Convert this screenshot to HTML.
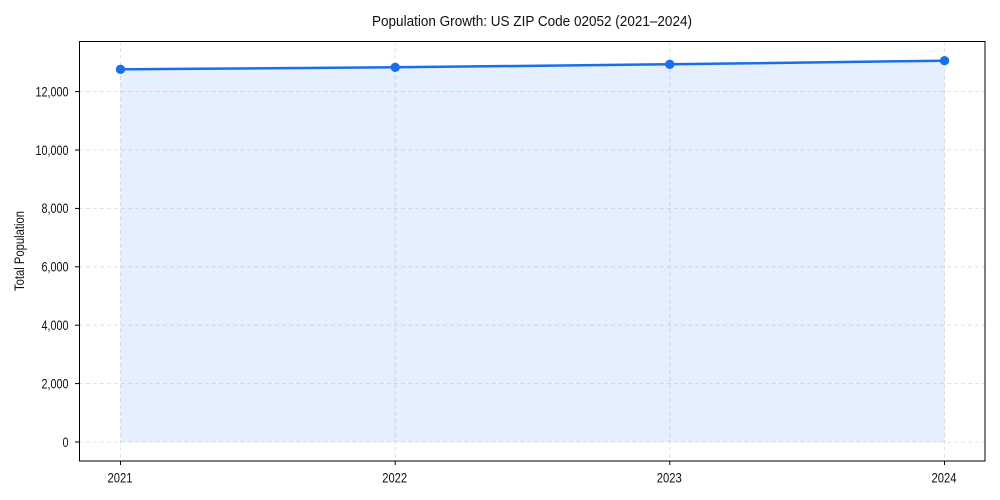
<!DOCTYPE html>
<html>
<head>
<meta charset="utf-8">
<style>
html,body{margin:0;padding:0;background:#fff;}
svg{display:block;}
text{font-family:"Liberation Sans",Arial,sans-serif;fill:#111;}
</style>
</head>
<body>
<svg width="1000" height="500" viewBox="0 0 1000 500" xmlns="http://www.w3.org/2000/svg">
  <rect x="0" y="0" width="1000" height="500" fill="#fff"/>
  <!-- title -->
  <text x="532" y="26" font-size="14.5" text-anchor="middle" textLength="320" lengthAdjust="spacingAndGlyphs">Population Growth: US ZIP Code 02052 (2021–2024)</text>

  <!-- grid -->
  <g stroke="#d8dbe0" stroke-width="0.8" stroke-dasharray="4,3" fill="none">
    <line x1="79" x2="985" y1="442" y2="442"/>
    <line x1="79" x2="985" y1="383.6" y2="383.6"/>
    <line x1="79" x2="985" y1="325.2" y2="325.2"/>
    <line x1="79" x2="985" y1="266.8" y2="266.8"/>
    <line x1="79" x2="985" y1="208.4" y2="208.4"/>
    <line x1="79" x2="985" y1="150" y2="150"/>
    <line x1="79" x2="985" y1="91.6" y2="91.6"/>
    <line x1="120.5" x2="120.5" y1="41" y2="461"/>
    <line x1="395.2" x2="395.2" y1="41" y2="461"/>
    <line x1="669.8" x2="669.8" y1="41" y2="461"/>
    <line x1="944.5" x2="944.5" y1="41" y2="461"/>
  </g>

  <!-- fill -->
  <polygon points="120.5,69.3 395.2,67.3 669.8,64.3 944.5,60.7 944.5,442 120.5,442" fill="#1a6ff0" fill-opacity="0.11"/>

  <!-- line -->
  <polyline points="120.5,69.3 395.2,67.3 669.8,64.3 944.5,60.7" fill="none" stroke="#1a6fe8" stroke-width="2.5" stroke-linejoin="round"/>
  <g fill="#1a6ff0">
    <circle cx="120.5" cy="69.3" r="4.7"/>
    <circle cx="395.2" cy="67.3" r="4.7"/>
    <circle cx="669.8" cy="64.3" r="4.7"/>
    <circle cx="944.5" cy="60.7" r="4.7"/>
  </g>

  <!-- axes frame -->
  <rect x="79.5" y="41.5" width="905.5" height="419.5" fill="none" stroke="#000" stroke-width="1"/>

  <!-- ticks -->
  <g stroke="#000" stroke-width="1">
    <line x1="75" x2="79" y1="442" y2="442"/>
    <line x1="75" x2="79" y1="383.6" y2="383.6"/>
    <line x1="75" x2="79" y1="325.2" y2="325.2"/>
    <line x1="75" x2="79" y1="266.8" y2="266.8"/>
    <line x1="75" x2="79" y1="208.4" y2="208.4"/>
    <line x1="75" x2="79" y1="150" y2="150"/>
    <line x1="75" x2="79" y1="91.6" y2="91.6"/>
    <line x1="120.5" x2="120.5" y1="461" y2="465"/>
    <line x1="395.2" x2="395.2" y1="461" y2="465"/>
    <line x1="669.8" x2="669.8" y1="461" y2="465"/>
    <line x1="944.5" x2="944.5" y1="461" y2="465"/>
  </g>
  <g font-size="13.5" text-anchor="end">
    <text x="68.5" y="446.8" textLength="6" lengthAdjust="spacingAndGlyphs">0</text>
    <text x="68.5" y="388.4" textLength="27" lengthAdjust="spacingAndGlyphs">2,000</text>
    <text x="68.5" y="330" textLength="27" lengthAdjust="spacingAndGlyphs">4,000</text>
    <text x="68.5" y="271.6" textLength="27" lengthAdjust="spacingAndGlyphs">6,000</text>
    <text x="68.5" y="213.2" textLength="27" lengthAdjust="spacingAndGlyphs">8,000</text>
    <text x="68.5" y="154.8" textLength="33" lengthAdjust="spacingAndGlyphs">10,000</text>
    <text x="68.5" y="96.4" textLength="33" lengthAdjust="spacingAndGlyphs">12,000</text>
  </g>
  <g font-size="14" text-anchor="middle">
    <text x="120" y="482.5" textLength="25" lengthAdjust="spacingAndGlyphs">2021</text>
    <text x="394.7" y="482.5" textLength="25" lengthAdjust="spacingAndGlyphs">2022</text>
    <text x="669.3" y="482.5" textLength="25" lengthAdjust="spacingAndGlyphs">2023</text>
    <text x="944" y="482.5" textLength="25" lengthAdjust="spacingAndGlyphs">2024</text>
  </g>
  <!-- y label -->
  <text transform="translate(24,251) rotate(-90)" font-size="13.5" text-anchor="middle" textLength="80" lengthAdjust="spacingAndGlyphs">Total Population</text>
</svg>
</body>
</html>
